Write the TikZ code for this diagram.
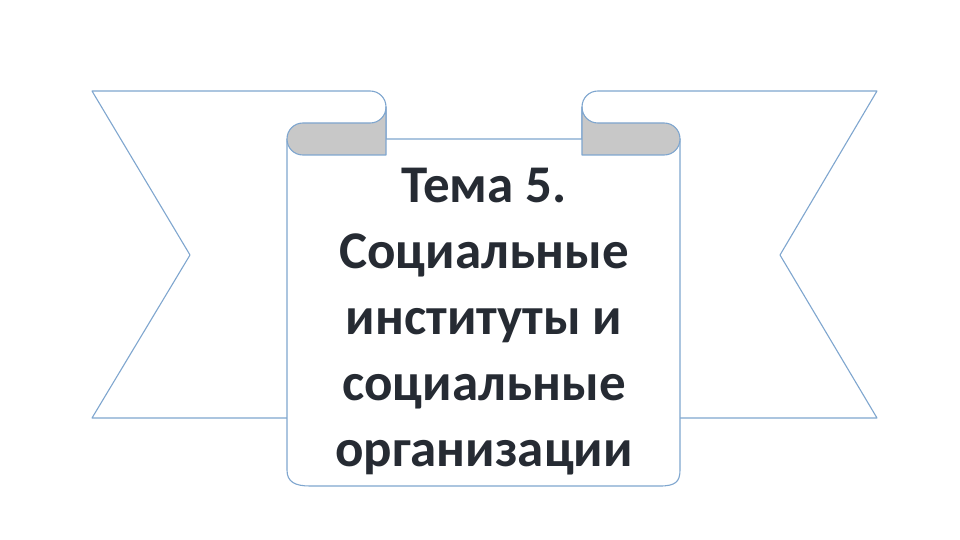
\documentclass[tikz,border=0pt]{standalone}
\usepackage{fontspec}
\setmainfont{Carlito}
\begin{document}
\begin{tikzpicture}[x=1pt,y=-1pt,line join=round,
  rib/.style={draw=edge,line width=1.1pt,fill=white},
  curl/.style={draw=edge,line width=1.1pt,fill=curlgray}]
\definecolor{edge}{HTML}{7FA6CF}
\definecolor{curlgray}{HTML}{C8C8C8}
\definecolor{txt}{HTML}{262B33}
\useasboundingbox (0,0) rectangle (960,540);
% left ribbon
\path[rib] (92,91) -- (370,91) .. controls (379,91) and (386,98) .. (386,107) -- (386,418) -- (92,418) -- (190,255) -- cycle;
% right ribbon
\path[rib] (877,91) -- (598,91) .. controls (589,91) and (582,98) .. (582,107) -- (582,418) -- (877,418) -- (780,255) -- cycle;
% scroll body
\path[rib] (287,139) -- (287,470) .. controls (287,482) and (295,486) .. (310,486) -- (660,486) .. controls (675,486) and (680,482) .. (680,470) -- (680,139) -- cycle;
% curls
\path[curl] (386,107) .. controls (386,116) and (379,123) .. (370,123) -- (303,123) .. controls (294,123) and (287,130) .. (287,139) .. controls (287,148) and (294,155) .. (303,155) -- (386,155) -- cycle;
\path[curl] (582,107) .. controls (582,116) and (589,123) .. (598,123) -- (664,123) .. controls (673,123) and (680,130) .. (680,139) .. controls (680,148) and (673,155) .. (664,155) -- (582,155) -- cycle;
\node[text=txt,font=\bfseries\fontsize{53}{66}\selectfont,align=center] (t) at (484,322)
 {Тема 5.\\Социальные\\институты и\\социальные\\организации};
\end{tikzpicture}
\end{document}
